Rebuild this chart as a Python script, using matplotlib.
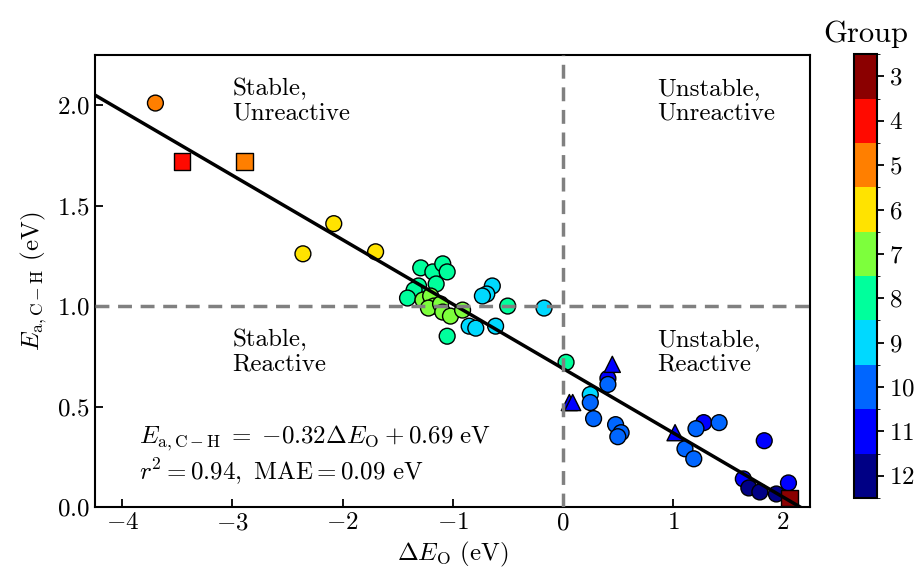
import numpy as np
import matplotlib
matplotlib.use("Agg")
import matplotlib.pyplot as plt
from matplotlib.colors import BoundaryNorm, ListedColormap

plt.rcParams['font.family'] = 'serif'
plt.rcParams['font.serif'] = ['cmr10']
plt.rcParams['mathtext.fontset'] = 'cm'
plt.rcParams['axes.formatter.use_mathtext'] = True
plt.rcParams['font.size'] = 18

# circles: (dE_O, Ea, group)
circ_x = [-3.70, -2.08, -2.36, -1.70,
          -1.29, -1.18, -1.09, -1.05, -1.15, -1.31, -1.35, -1.41, -1.05, -0.50, 0.03,
          -1.27, -1.20, -1.17, -1.22, -1.11, -1.09, -1.02, -0.91,
          -0.64, -0.69, -0.73, -0.85, -0.79, -0.61, -0.17, 0.25,
          0.41, 1.28, 1.83, 1.64, 2.05,
          0.41, 0.25, 0.28, 0.48, 0.53, 0.50, 1.21, 1.42, 1.11, 1.19,
          1.69, 1.79, 1.94]
circ_y = [2.01, 1.41, 1.26, 1.27,
          1.19, 1.17, 1.21, 1.17, 1.11, 1.10, 1.08, 1.04, 0.85, 1.00, 0.72,
          1.03, 1.05, 1.00, 0.99, 1.01, 0.97, 0.95, 0.98,
          1.10, 1.06, 1.05, 0.90, 0.89, 0.90, 0.99, 0.56,
          0.64, 0.42, 0.33, 0.14, 0.12,
          0.61, 0.52, 0.44, 0.41, 0.37, 0.35, 0.39, 0.42, 0.29, 0.24,
          0.095, 0.075, 0.065]
circ_g = [5, 6, 6, 6,
          8, 8, 8, 8, 8, 8, 8, 8, 8, 8, 8,
          7, 7, 7, 7, 7, 7, 7, 7,
          9, 9, 9, 9, 9, 9, 9, 9,
          11, 11, 11, 11, 11,
          10, 10, 10, 10, 10, 10, 10, 10, 10, 10,
          12, 12, 12]

sq_x = [-3.46, -2.89, 2.06]
sq_y = [1.72, 1.72, 0.045]
sq_g = [4, 5, 3]

tri_x = [0.45, 0.06, 0.09, 1.02]
tri_y = [0.71, 0.52, 0.52, 0.37]
tri_g = [11, 11, 11, 11]

slope, intercept = -0.32, 0.69
r2, mae = 0.94, 0.09
groups = list(range(3, 13))
group_colors = ['#8b0000', '#ff0a00', '#ff7f00', '#ffe300', '#7dff3c',
                '#00ff9c', '#00d9ff', '#0066ff', '#0000ff', '#000085']

fig = plt.figure(figsize=(9.21, 5.71), dpi=100)
ax = fig.add_axes([0.103, 0.112, 0.777, 0.792])
cax = fig.add_axes([0.927, 0.128, 0.025, 0.777])

cmap = ListedColormap(group_colors)
norm = BoundaryNorm(np.arange(2.5, 13.5, 1), cmap.N)

kw = dict(cmap=cmap, norm=norm, edgecolors='black', linewidths=1.0, zorder=2)
sc = ax.scatter(circ_x, circ_y, c=circ_g, marker='o', s=130, **kw)
ax.scatter(sq_x, sq_y, c=sq_g, marker='s', s=140, **kw)
ax.scatter(tri_x, tri_y, c=tri_g, marker='^', s=135, **kw)

xlim = (-4.25, 2.25)
xs = np.array(xlim)
ax.plot(xs, slope * xs + intercept, color='black', lw=2.5, zorder=3)
ax.axvline(0, color='gray', ls=(0, (4, 2.5)), lw=2.5, zorder=3)
ax.axhline(1.0, color='gray', ls=(0, (4, 2.5)), lw=2.5, zorder=3)

ax.set_xlim(*xlim)
ax.set_ylim(0, 2.25)
ax.set_xticks([-4, -3, -2, -1, 0, 1, 2])
ax.set_yticks([0.0, 0.5, 1.0, 1.5, 2.0])
ax.yaxis.set_major_formatter(plt.FuncFormatter(lambda v, p: f'${v:.1f}$'))
ax.tick_params(direction='in', length=6, width=1.3, labelsize=18)
for sp in ax.spines.values():
    sp.set_linewidth(1.5)

ax.set_xlabel(r'$\Delta E_{\mathrm{O}}$ (eV)', fontsize=18, labelpad=4)
ax.set_ylabel(r'$E_{\mathrm{a,C-H}}$ (eV)', fontsize=18, labelpad=6)

ax.text(-3.0, 2.02, 'Stable,\nUnreactive', fontsize=18, va='center', ha='left', linespacing=1.1)
ax.text(0.86, 2.02, 'Unstable,\nUnreactive', fontsize=18, va='center', ha='left', linespacing=1.1)
ax.text(-3.0, 0.77, 'Stable,\nReactive', fontsize=18, va='center', ha='left', linespacing=1.1)
ax.text(0.86, 0.77, 'Unstable,\nReactive', fontsize=18, va='center', ha='left', linespacing=1.1)

ax.text(-3.85, 0.345, r'$E_{\mathrm{a,C-H}} \;=\; {%.2f}\Delta E_{\mathrm{O}} + %.2f\ \mathrm{eV}$' % (slope, intercept),
        fontsize=18, va='center', ha='left')
ax.text(-3.85, 0.175, r'$r^2 = %.2f,\ \mathrm{MAE} = %.2f\ \mathrm{eV}$' % (r2, mae), fontsize=18, va='center', ha='left')

cb = fig.colorbar(sc, cax=cax, ticks=groups)
cb.ax.invert_yaxis()
cb.ax.set_yticklabels([f'${g}$' for g in groups])
cb.ax.tick_params(labelsize=18, width=1.3, length=5)
cb.outline.set_linewidth(1.5)
cb.ax.set_title('Group', fontsize=22, pad=9)

fig.savefig('out.png', dpi=100)
